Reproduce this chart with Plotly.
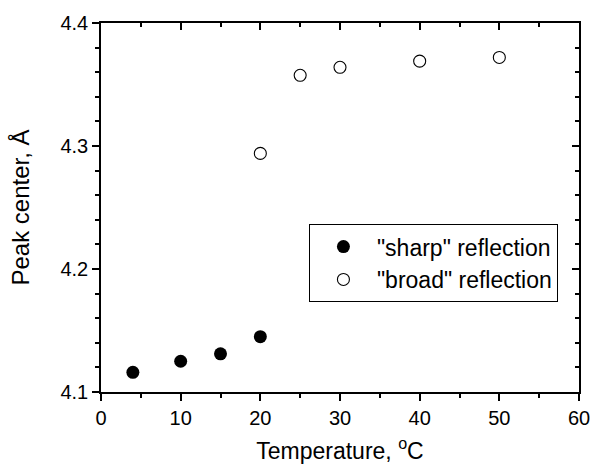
import plotly.graph_objects as go

sharp_T = [4, 10, 15, 20]
sharp_peak = [4.116, 4.125, 4.131, 4.145]
broad_T = [20, 25, 30, 40, 50]
broad_peak = [4.294, 4.3575, 4.364, 4.369, 4.372]
sharp_name = '"sharp" reflection'
broad_name = '"broad" reflection'

FONT = "Liberation Sans, Arial, sans-serif"

fig = go.Figure()
fig.add_trace(go.Scatter(x=sharp_T, y=sharp_peak, mode="markers", name=sharp_name,
                         marker=dict(symbol="circle", size=13, color="black",
                                     line=dict(width=0))))
fig.add_trace(go.Scatter(x=broad_T, y=broad_peak, mode="markers", name=broad_name,
                         marker=dict(symbol="circle-open", size=12, color="black",
                                     line=dict(width=1.1, color="black"))))
# invisible trace for mirror axes
fig.add_trace(go.Scatter(x=[None], y=[None], xaxis="x2", yaxis="y2",
                         showlegend=False, hoverinfo="skip"))

common = dict(showgrid=False, zeroline=False, showline=True, linecolor="black",
              linewidth=1.5, tickcolor="black", ticklen=7, tickwidth=1.5,
              automargin=False)

fig.update_layout(
    width=594, height=464,
    margin=dict(l=100.5, r=14.5, t=22.5, b=72),
    paper_bgcolor="white", plot_bgcolor="white",
    font=dict(family=FONT, size=20, color="black"),
    xaxis=dict(range=[0, 60], dtick=10, ticks="outside",
               minor=dict(dtick=5, ticks="outside", ticklen=4, tickwidth=1.5, tickcolor="black"),
               title=dict(text="Temperature, <sup>o</sup>C", font=dict(size=23), standoff=15),
               tickfont=dict(size=20), **common),
    yaxis=dict(range=[4.1, 4.4], dtick=0.1, tickformat=".1f", ticks="outside",
               minor=dict(dtick=0.02, ticks="outside", ticklen=4, tickwidth=1.5, tickcolor="black"),
               title=dict(text="Peak center, Å", font=dict(size=24), standoff=24),
               tickfont=dict(size=20), **common),
    xaxis2=dict(range=[0, 60], dtick=10, ticks="inside", side="top", overlaying="x",
                anchor="y", showticklabels=False,
                minor=dict(dtick=5, ticks="inside", ticklen=4, tickwidth=1.5, tickcolor="black"),
                **common),
    yaxis2=dict(range=[4.1, 4.4], dtick=0.1, ticks="inside", side="right", overlaying="y",
                anchor="x", showticklabels=False,
                minor=dict(dtick=0.02, ticks="inside", ticklen=4, tickwidth=1.5, tickcolor="black"),
                **common),
    legend=dict(x=0.435, y=0.455, xanchor="left", yanchor="top",
                bordercolor="black", borderwidth=1, bgcolor="white",
                font=dict(size=23), itemwidth=57, tracegroupgap=0),
    showlegend=True,
)

fig.write_html("out.html", config={"displayModeBar": False},
               post_script="document.body.style.margin='0px';")
